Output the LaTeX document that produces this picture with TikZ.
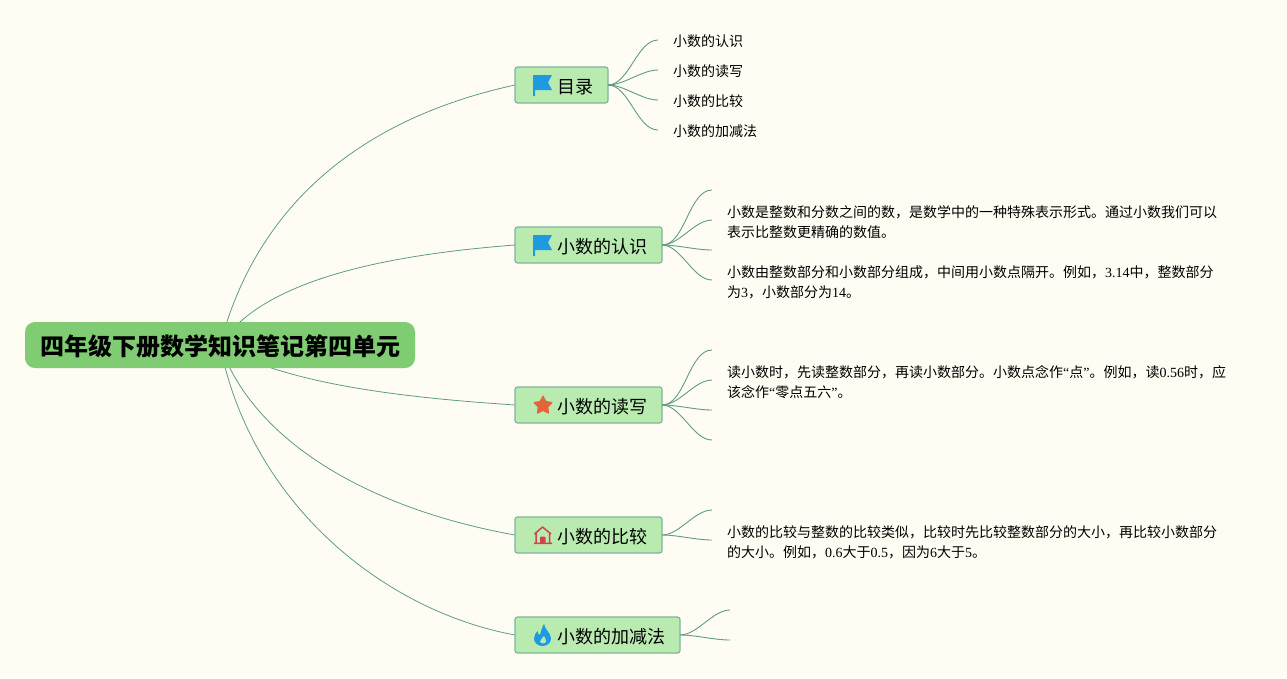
\documentclass[tikz,border=0pt]{standalone}
\usepackage{fontspec}
\setmainfont{Noto Sans CJK SC}
\newfontfamily\numfont{Liberation Serif}
\usetikzlibrary{backgrounds}
\definecolor{paper}{HTML}{FFFDF3}
\definecolor{rootgreen}{HTML}{7FCC72}
\definecolor{boxgreen}{HTML}{B9EBB0}
\definecolor{boxline}{HTML}{7FB59A}
\definecolor{linkgreen}{HTML}{5E9C84}
\definecolor{flagblue}{HTML}{1E9BE0}
\definecolor{starorange}{HTML}{E2643A}
\definecolor{housered}{HTML}{CF4350}
\tikzstyle{rootbox} = [rectangle, rounded corners=10pt, minimum width=390pt, minimum height=46pt, inner sep=0pt, text height=24pt, text depth=3pt, fill=rootgreen, font=\fontsize{24}{30}\selectfont\bfseries]
\tikzstyle{branch} = [rectangle, rounded corners=2.5pt, anchor=west, minimum height=36pt, inner xsep=15pt, inner ysep=0pt, outer sep=0pt, text height=19pt, text depth=2.4pt, draw=boxline, line width=1.2pt, fill=boxgreen, font=\fontsize{18}{22}\selectfont]
\tikzstyle{leaf} = [anchor=west, inner xsep=15pt, inner ysep=0pt, font=\fontsize{14}{20}\selectfont]
\tikzstyle{detail} = [anchor=west, inner xsep=15pt, inner ysep=0pt, align=left, font=\fontsize{14}{20}\selectfont]
\tikzstyle{mainlink} = [draw=linkgreen, line width=0.8pt]
\tikzstyle{sublink} = [draw=linkgreen, line width=0.9pt, out=0, in=180, looseness=0.8]
\newcommand{\nm}[1]{{\numfont #1}}
\newcommand{\pad}{\hspace{27pt}}
\newcommand{\flagicon}[2]{\fill[flagblue] (#1,#2) -- (#1+19,#2) -- (#1+15,#2+7.5) -- (#1+19,#2+15) -- (#1+2,#2+15) -- (#1+2,#2+21) -- (#1,#2+21) -- cycle;}
\begin{document}
\begin{tikzpicture}[x=1pt, y=-1pt]
\useasboundingbox (0,0) rectangle (1287,678);
\node (root) [rootbox] at (220,345) {四年级下册数学知识笔记第四单元};
\node (toc) [branch] at (515,85) {\pad 目录};
\node (know) [branch] at (515,245) {\pad 小数的认识};
\node (read) [branch] at (515,405) {\pad 小数的读写};
\node (comp) [branch] at (515,535) {\pad 小数的比较};
\node (calc) [branch] at (515,635) {\pad 小数的加减法};
\node (toca) [leaf] at (658,41) {小数的认识};
\node (tocb) [leaf] at (658,71) {小数的读写};
\node (tocc) [leaf] at (658,101) {小数的比较};
\node (tocd) [leaf] at (658,131) {小数的加减法};
\coordinate (knowa) at (712,190);
\node (knowb) [detail] at (712,222) {小数是整数和分数之间的数，是数学中的一种特殊表示形式。通过小数我们可以\\表示比整数更精确的数值。};
\coordinate (knowc) at (712,250);
\node (knowd) [detail] at (712,282) {小数由整数部分和小数部分组成，中间用小数点隔开。例如，\nm{3.14}中，整数部分\\为\nm{3}，小数部分为\nm{14}。};
\coordinate (reada) at (712,350);
\node (readb) [detail] at (712,382) {读小数时，先读整数部分，再读小数部分。小数点念作\nm{“}点\nm{”}。例如，读\nm{0.56}时，应\\该念作\nm{“}零点五六\nm{”}。};
\coordinate (readc) at (712,410);
\coordinate (readd) at (712,440);
\coordinate (compa) at (712,510);
\node (compb) [detail] at (712,542) {小数的比较与整数的比较类似，比较时先比较整数部分的大小，再比较小数部分\\的大小。例如，\nm{0.6}大于\nm{0.5}，因为\nm{6}大于\nm{5}。};
\coordinate (calca) at (730,610);
\coordinate (calcb) at (730,640);
\begin{pgfonlayer}{background}
\fill[paper] (0,0) rectangle (1287,678);
\draw[mainlink] (root.center) .. controls (265,175) and (400,110) .. (toc.west);
\draw[mainlink] (root.center) .. controls (262,280) and (385,255) .. (know.west);
\draw[mainlink] (root.center) .. controls (285,385) and (410,398) .. (read.west);
\draw[mainlink] (root.center) .. controls (255,445) and (375,510) .. (comp.west);
\draw[mainlink] (root.center) .. controls (250,500) and (380,610) .. (calc.west);
\end{pgfonlayer}
\draw[sublink] (toc.east) to ([yshift=1pt]toca.west);
\draw[sublink] (toc.east) to ([yshift=1pt]tocb.west);
\draw[sublink] (toc.east) to ([yshift=1pt]tocc.west);
\draw[sublink] (toc.east) to ([yshift=1pt]tocd.west);
\draw[sublink] (know.east) to (knowa);
\draw[sublink] (know.east) to ([yshift=2pt]knowb.west);
\draw[sublink] (know.east) to (knowc);
\draw[sublink] (know.east) to ([yshift=2pt]knowd.west);
\draw[sublink] (read.east) to (reada);
\draw[sublink] (read.east) to ([yshift=2pt]readb.west);
\draw[sublink] (read.east) to (readc);
\draw[sublink] (read.east) to (readd);
\draw[sublink] (comp.east) to (compa);
\draw[sublink] (comp.east) to ([yshift=2pt]compb.west);
\draw[sublink] (calc.east) to (calca);
\draw[sublink] (calc.east) to (calcb);
\flagicon{533}{75}
\flagicon{533}{235}
\begin{scope}[shift={(543,405.5)}]
\filldraw[starorange, line width=1pt, line join=round] (0,-9.5) -- (2.9,-4) -- (9,-3) -- (4.8,1.5) -- (5.6,7.7) -- (0,5) -- (-5.6,7.7) -- (-4.8,1.5) -- (-9,-3) -- (-2.9,-4) -- cycle;
\end{scope}
\draw[housered, line width=1.5pt, line join=round] (534.5,534) -- (542.5,527) -- (551,534) (536,533) -- (536,543) (549.5,533) -- (549.5,543) (534,543.3) -- (552,543.3);
\fill[housered, rounded corners=1pt] (540,543.5) -- (540,536.5) -- (545.5,536.5) -- (545.5,543.5) -- cycle;
\fill[flagblue] (544,624) .. controls (545,630) and (551,633) .. (551,638.5) .. controls (551,643) and (547,646) .. (542.5,646) .. controls (538,646) and (534,643) .. (534,638.5) .. controls (534,635) and (536,633) .. (537.5,631) .. controls (537.5,633) and (538.5,635) .. (540,635) .. controls (541,631) and (542,627) .. (544,624) -- cycle;
\fill[boxgreen] (544,636) .. controls (545,638.5) and (546.5,639.5) .. (546,641.5) .. controls (545.5,644) and (540.5,644) .. (540,641.5) .. controls (539.8,639.5) and (543,638.5) .. (544,636) -- cycle;
\end{tikzpicture}
\end{document}
